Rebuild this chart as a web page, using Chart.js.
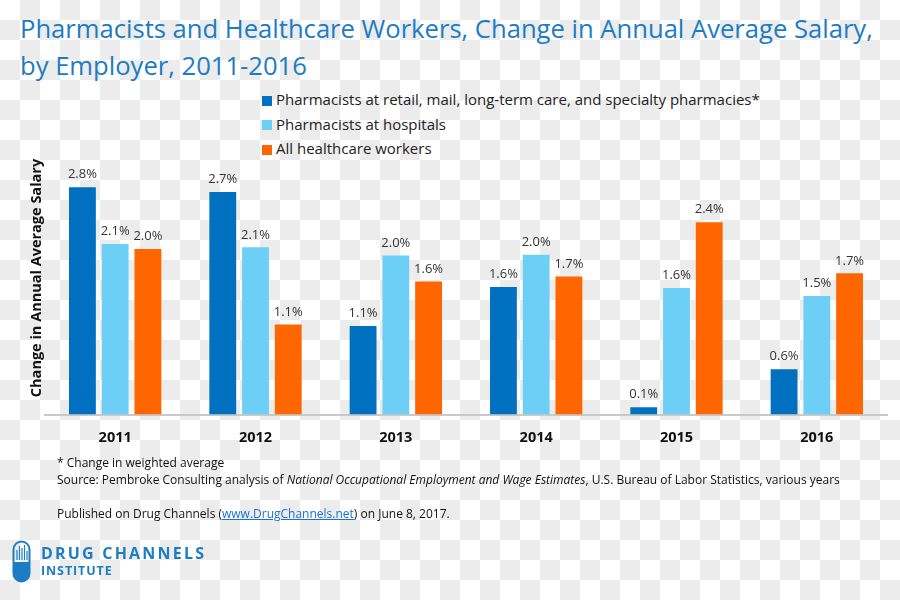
<!DOCTYPE html>
<html>
<head>
<meta charset="utf-8">
<script src="https://cdn.jsdelivr.net/npm/chart.js@4.4.0/dist/chart.umd.min.js"></script>
<style>
  html, body {
    margin: 0;
    padding: 0;
  }
  body {
    width: 900px;
    height: 600px;
    position: relative;
    overflow: hidden;
    font-family: "Open Sans", "Noto Sans", sans-serif;
    background: repeating-conic-gradient(#ececec 0 25%, #ffffff 0 50%) 0 0 / 40px 40px;
  }
  #title {
    position: absolute;
    left: 20px;
    top: 10px;
    color: #1c7cc4;
    font-size: 25px;
    line-height: 37px;
    white-space: nowrap;
    transform-origin: 0 0;
  }
  #legend {
    position: absolute;
    left: 262px;
    top: 87px;
    font-size: 15px;
    color: #222;
  }
  #legend .row {
    height: 24.5px;
    line-height: 24.5px;
    white-space: nowrap;
  }
  #legend .box {
    display: inline-block;
    width: 10px;
    height: 10px;
    margin-right: 4px;
    vertical-align: -0.5px;
  }
  #chart-wrap {
    position: absolute;
    left: 0;
    top: 140px;
    width: 900px;
    height: 319px;
  }
  #y-title {
    position: absolute;
    left: 35px;
    top: 278px;
    transform: translate(-50%, -50%) rotate(-90deg);
    font-size: 14.5px;
    font-weight: bold;
    color: #111;
    white-space: nowrap;
  }
  #notes {
    position: absolute;
    left: 57px;
    top: 454px;
    font-size: 12px;
    color: #111;
    white-space: nowrap;
  }
  #notes div {
    height: 17px;
    line-height: 17px;
  }
  #notes a {
    color: #1a6fd8;
    text-decoration: underline;
  }
  #logo {
    position: absolute;
    left: 12px;
    top: 540px;
  }
  #logo-text {
    position: absolute;
    left: 41px;
    top: 544px;
    color: #1c7cc4;
    font-weight: bold;
    white-space: nowrap;
  }
</style>
</head>
<body>
<div id="title">Pharmacists and Healthcare Workers, Change in Annual Average Salary,<br>by Employer, 2011-2016</div>
<div id="legend"></div>
<div id="chart-wrap"><canvas id="result-chart"></canvas></div>
<div id="y-title">Change in Annual Average Salary</div>
<div id="notes">
  <div>* Change in weighted average</div>
  <div>Source: Pembroke Consulting analysis of <i>National Occupational Employment and Wage Estimates</i>, U.S. Bureau of Labor Statistics, various years</div>
  <div>&nbsp;</div>
  <div>Published on Drug Channels (<a>www.DrugChannels.net</a>) on June 8, 2017.</div>
</div>
<svg id="logo" width="20" height="44" viewBox="0 0 20 44">
  <rect x="1.5" y="1.5" width="16" height="40" rx="8" fill="none" stroke="#1c7cc4" stroke-width="2"/>
  <path d="M1.5 22 H17.5 V33.5 A8 8 0 0 1 1.5 33.5 Z" fill="#1c7cc4"/>
  <path d="M5 20 V10 M7.5 20 V6 M10 20 V8 M12.5 20 V5 M15 20 V11" stroke="#1c7cc4" stroke-width="1.2"/>
</svg>
<div id="logo-text">
  <div style="font-size:16px;letter-spacing:2.2px;line-height:19px;">DRUG CHANNELS</div>
  <div style="font-size:12.5px;letter-spacing:0.9px;line-height:16px;">INSTITUTE</div>
</div>

<script>
const years = ["2011", "2012", "2013", "2014", "2015", "2016"];
const seriesNames = [
  "Pharmacists at retail, mail, long-term care, and specialty pharmacies*",
  "Pharmacists at hospitals",
  "All healthcare workers",
];
const seriesColors = ["#0070c0", "#6dcff6", "#ff6600"];

// % change
const retailPharmacists = [2.8, 2.74, 1.09, 1.57, 0.09, 0.56];
const hospitalPharmacists = [2.1, 2.06, 1.96, 1.97, 1.56, 1.46];
const allHealthcare = [2.04, 1.11, 1.64, 1.7, 2.37, 1.74];

const titleEl = document.getElementById("title");
// squeeze the title to the width of the original line
const titleScale = 853 / titleEl.scrollWidth;
titleEl.style.transform = `scaleX(${titleScale})`;

const legendEl = document.getElementById("legend");
seriesNames.forEach((name, i) => {
  const row = document.createElement("div");
  row.className = "row";
  row.innerHTML = `<span class="box" style="background:${seriesColors[i]}"></span>${name}`;
  legendEl.appendChild(row);
});

const barLabels = {
  id: "barLabels",
  afterDatasetsDraw(chart) {
    const ctx = chart.ctx;
    ctx.save();
    ctx.font = "13px 'Open Sans'";
    ctx.fillStyle = "#333";
    ctx.textAlign = "center";
    ctx.textBaseline = "bottom";
    chart.data.datasets.forEach((ds, i) => {
      chart.getDatasetMeta(i).data.forEach((bar, j) => {
        ctx.fillText(ds.data[j].toFixed(1) + "%", bar.x, bar.y - 6);
      });
    });
    ctx.restore();
  },
};

const make_dataset = (i, values) => ({
  label: seriesNames[i],
  data: values,
  backgroundColor: seriesColors[i],
  categoryPercentage: 0.7,
  barPercentage: 0.82,
});

const data = {
  labels: years,
  datasets: [
    make_dataset(0, retailPharmacists),
    make_dataset(1, hospitalPharmacists),
    make_dataset(2, allHealthcare),
  ],
};

Chart.defaults.font.family = "'Open Sans', 'Noto Sans', sans-serif";

const resultChart = new Chart(document.getElementById("result-chart"), {
  type: "bar",
  data: data,
  plugins: [barLabels],
  options: {
    responsive: true,
    maintainAspectRatio: false,
    animation: false,
    layout: {
      padding: { left: 27, right: 13, top: 31, bottom: 5 },
    },
    plugins: {
      legend: { display: false },
      tooltip: { enabled: false },
    },
    scales: {
      x: {
        grid: { display: false },
        border: { display: true, color: "#c9c9c9", width: 2 },
        ticks: {
          color: "#111",
          font: { size: 14.5, weight: "bold" },
          padding: 7,
        },
      },
      y: {
        min: 0,
        max: 3.0,
        grid: { display: false },
        border: { display: false },
        ticks: { display: false },
        afterFit: (scale) => {
          scale.width = 18;
        },
        title: { display: false },
      },
    },
  },
});
</script>
</body>
</html>
